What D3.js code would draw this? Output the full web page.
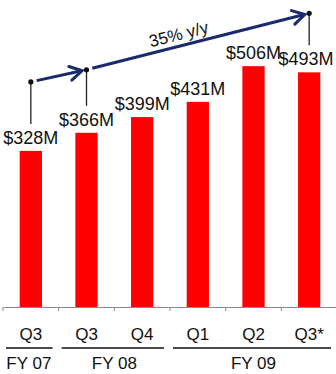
<!DOCTYPE html>
<html><head><meta charset="utf-8">
<script src="https://cdn.jsdelivr.net/npm/d3@7/dist/d3.min.js"></script>
<style>html,body{margin:0;padding:0;background:#fff;overflow:hidden}</style>
</head><body>
<svg id="c" width="336" height="374"></svg>
<script>
// ---- data ----
const categories = ["Q3 FY07", "Q3 FY08", "Q4 FY08", "Q1 FY09", "Q2 FY09", "Q3* FY09"];
const quarterLabels = ["Q3", "Q3", "Q4", "Q1", "Q2", "Q3*"];
const revenue = [328, 366, 399, 431, 506, 493];
const valueLabels = ["$328M", "$366M", "$399M", "$431M", "$506M", "$493M"];
const fyGroups = ["FY 07", "FY 08", "FY 09"];
const fyStart = [0, 1, 3];
const fyEnd = [0, 2, 5];
const growthText = "35% y/y";
const annotIdx = [0, 1, 5];

// ---- layout ----
const W = 336, H = 374;
const svg = d3.select("#c");
const font = "'Liberation Sans', Arial, Helvetica, sans-serif";
const navy = "#1b2a6b";

const x = d3.scaleBand().domain(categories).range([3, 337]).paddingInner(0.6).paddingOuter(0.3);
const y = d3.scaleLinear().domain([0, 645]).range([307, 0]);
const step = x.step();
const bound = i => 3 + i * step;

// bars
svg.selectAll("rect.bar").data(revenue).join("rect")
  .attr("x", (d, i) => x(categories[i]))
  .attr("y", d => y(d))
  .attr("width", x.bandwidth())
  .attr("height", d => y(0) - y(d))
  .attr("fill", "#ff0000");

// axis
const axis = d3.axisBottom(x).tickSize(0).tickFormat("");
const g = svg.append("g").attr("transform", `translate(0,${y(0)})`).call(axis);
g.select(".domain").attr("stroke", "#8a8a8a").attr("stroke-width", 1.2);
g.selectAll(".tick").remove();
svg.selectAll("line.tk").data(d3.range(7)).join("line")
  .attr("x1", i => bound(i)).attr("x2", i => bound(i))
  .attr("y1", y(0)).attr("y2", y(0) + 4)
  .attr("stroke", "#8a8a8a").attr("stroke-width", 1);

// value labels
const cx = i => x(categories[i]) + x.bandwidth() / 2;
const lblX = i => Math.min(cx(i), W - 30);
svg.selectAll("text.val").data(revenue).join("text")
  .attr("x", (d, i) => lblX(i))
  .attr("y", d => y(d) - 7)
  .attr("text-anchor", "middle")
  .attr("font-family", font).attr("font-size", 18).attr("fill", "#111")
  .text((d, i) => valueLabels[i]);

// quarter labels
svg.selectAll("text.q").data(quarterLabels).join("text")
  .attr("x", (d, i) => cx(i))
  .attr("y", 340)
  .attr("text-anchor", "middle")
  .attr("font-family", font).attr("font-size", 17).attr("fill", "#111")
  .text(d => d);

// fiscal year groups
fyGroups.forEach((name, k) => {
  const a = bound(fyStart[k]), b = bound(fyEnd[k] + 1);
  svg.append("line")
    .attr("x1", a + 3).attr("x2", Math.min(b - 6, W))
    .attr("y1", 348).attr("y2", 348)
    .attr("stroke", "#111").attr("stroke-width", 1.5);
  svg.append("text")
    .attr("x", (a + b) / 2 - (k === 0 ? 2 : 0)).attr("y", 369)
    .attr("text-anchor", "middle")
    .attr("font-family", font).attr("font-size", 17).attr("fill", "#111")
    .text(name);
});

// annotation pins
const dotOffsets = [62, 56, 52];
const pins = annotIdx.map((i, k) => {
  const base = y(revenue[i]) - 7;
  return { x: cx(i), y: base - dotOffsets[k], end: base - 20 };
});
pins.forEach(p => {
  svg.append("line").attr("x1", p.x).attr("x2", p.x).attr("y1", p.y).attr("y2", p.end)
    .attr("stroke", "#222").attr("stroke-width", 1.3);
  svg.append("circle").attr("cx", p.x).attr("cy", p.y).attr("r", 2.6).attr("fill", "#111");
});

// arrows
function arrow(p, q) {
  const dx = q.x - p.x, dy = q.y - p.y, L = Math.hypot(dx, dy);
  const ux = dx / L, uy = dy / L;
  const s = { x: p.x + ux * 6, y: p.y + uy * 6 };
  const t = { x: q.x - ux * 4.5, y: q.y - uy * 4.5 };
  svg.append("line").attr("x1", s.x).attr("y1", s.y).attr("x2", t.x - ux * 1.5).attr("y2", t.y - uy * 1.5)
    .attr("stroke", navy).attr("stroke-width", 3);
  const hl = 12, hw = 7;
  const b1 = { x: t.x - ux * hl - uy * hw, y: t.y - uy * hl + ux * hw };
  const b2 = { x: t.x - ux * hl + uy * hw, y: t.y - uy * hl - ux * hw };
  svg.append("path").attr("d", `M${b1.x},${b1.y}L${t.x},${t.y}L${b2.x},${b2.y}`)
    .attr("fill", "none").attr("stroke", navy).attr("stroke-width", 3)
    .attr("stroke-linejoin", "miter").attr("stroke-linecap", "round");
  return { s, t, ux, uy };
}
arrow(pins[0], pins[1]);
const a2 = arrow(pins[1], pins[2]);

// growth label
const tt = 0.42;
const mx = a2.s.x + (a2.t.x - a2.s.x) * tt, my = a2.s.y + (a2.t.y - a2.s.y) * tt;
const ang = Math.atan2(a2.t.y - a2.s.y, a2.t.x - a2.s.x) * 180 / Math.PI;
svg.append("text")
  .attr("transform", `translate(${mx},${my}) rotate(${ang}) translate(0,-6)`)
  .attr("text-anchor", "middle")
  .attr("font-family", font).attr("font-size", 17).attr("fill", "#111")
  .text(growthText);
</script>
</body></html>
